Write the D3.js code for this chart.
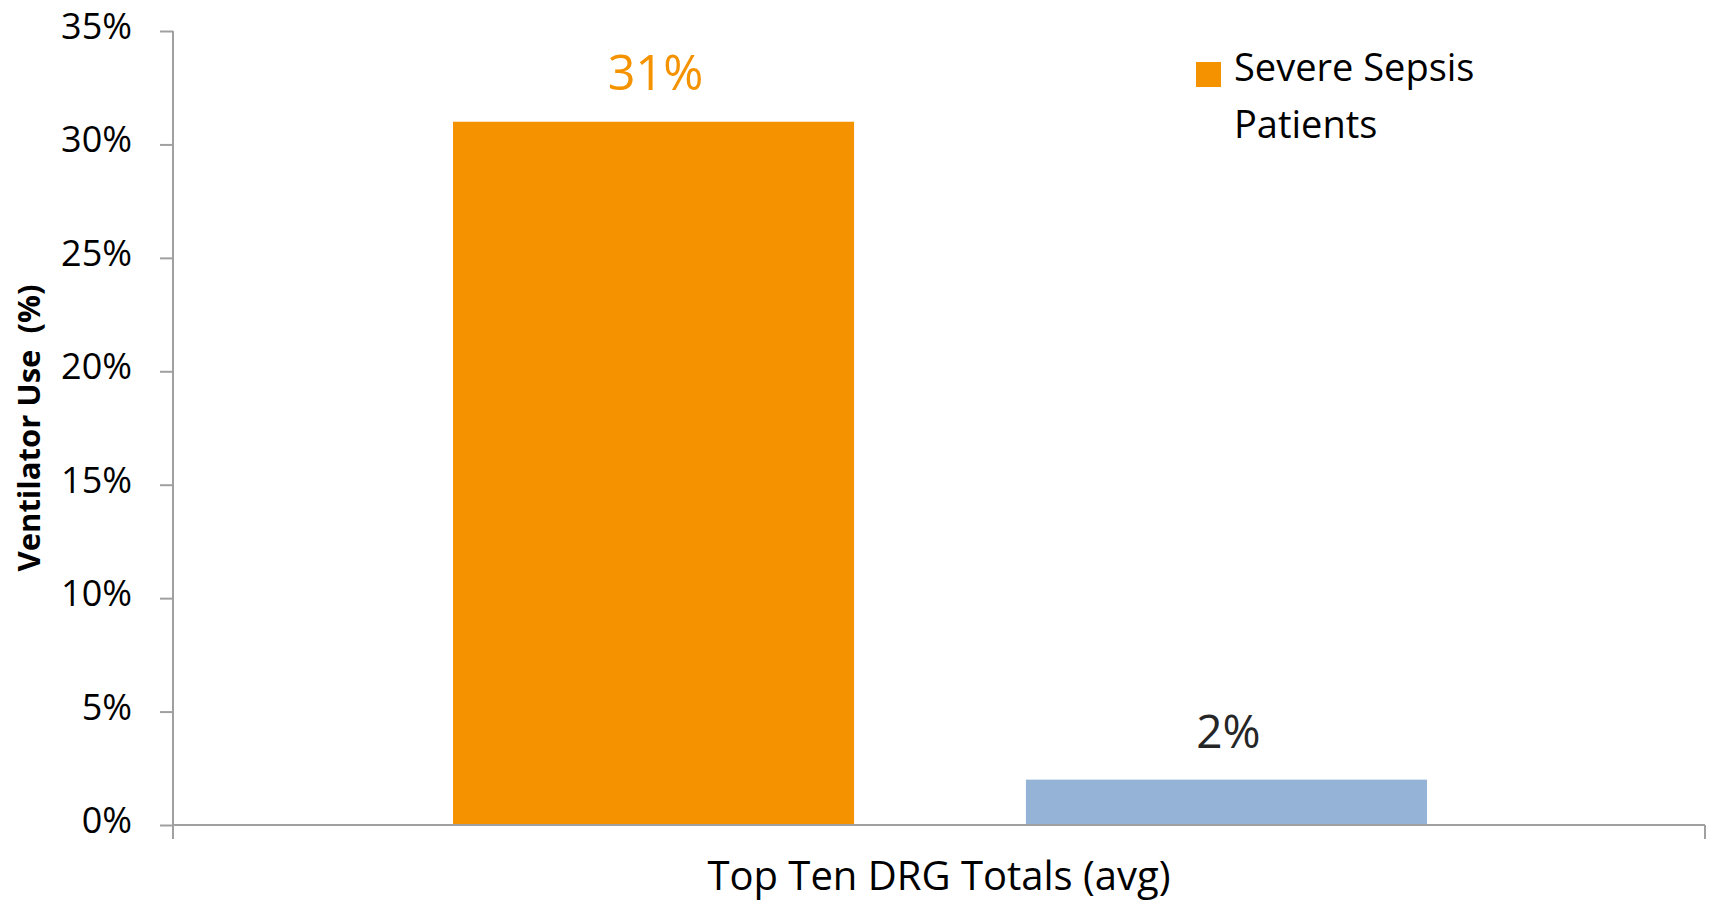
<!DOCTYPE html>
<html>
<head>
<meta charset="utf-8">
<script src="https://cdn.jsdelivr.net/npm/d3@7"></script>
<style>
  body { margin: 0; background: #fff; }
  svg { display: block; font-family: "Open Sans", sans-serif; }
</style>
</head>
<body>
<script>
// chart data
const categories = ["Top Ten DRG Totals (avg)"];
const seriesNames = ["Severe Sepsis Patients", "Other Patients"];
const seriesValues = [0.31, 0.02];
const seriesColors = ["#f59200", "#95b3d7"];
const labelColors = ["#f59200", "#262626"];
const yTicks = [0, 0.05, 0.10, 0.15, 0.20, 0.25, 0.30, 0.35];

const w = 1712, h = 903;
const plotLeft = 173, plotRight = 1705, plotTop = 31, plotBottom = 825;
const font = "'Open Sans', sans-serif";

const svg = d3.select("body").append("svg")
    .attr("width", w)
    .attr("height", h);

const y = d3.scaleLinear().domain([0, 0.35]).range([plotBottom, plotTop]);
const x = d3.scaleBand().domain(categories).range([plotLeft, plotRight]);
const xs = d3.scaleBand().domain(seriesNames)
    .range([1, x.bandwidth() + 1])
    .paddingInner(0.3)
    .paddingOuter(0.487);

// y axis
const yAxis = svg.append("g")
    .attr("transform", `translate(${plotLeft},0)`)
    .call(d3.axisLeft(y).tickValues(yTicks).tickFormat(d3.format(".0%"))
        .tickSize(13).tickPadding(28).tickSizeOuter(0));
yAxis.attr("font-family", font);
yAxis.select(".domain").remove();
yAxis.selectAll(".tick line").attr("stroke", "#a0a0a0").attr("stroke-width", 2);
yAxis.selectAll(".tick text")
    .attr("font-size", 36)
    .attr("fill", "#000")
    .attr("dy", "0.21em");
yAxis.append("line")
    .attr("x1", 0).attr("x2", 0)
    .attr("y1", y(0.35)).attr("y2", y(0) + 14)
    .attr("stroke", "#a0a0a0").attr("stroke-width", 2);

// bars
const bars = svg.append("g");
seriesNames.forEach((s, i) => {
    bars.append("rect")
        .attr("x", x(categories[0]) + xs(s))
        .attr("y", y(seriesValues[i]))
        .attr("width", xs.bandwidth())
        .attr("height", y(0) - y(seriesValues[i]))
        .attr("fill", seriesColors[i]);
    svg.append("text")
        .attr("x", x(categories[0]) + xs(s) + xs.bandwidth() / 2 + 2)
        .attr("y", y(seriesValues[i]) - 32)
        .attr("text-anchor", "middle")
        .attr("font-size", i === 0 ? 48.5 : 46)
        .attr("fill", labelColors[i])
        .text(d3.format(".0%")(seriesValues[i]));
});

// x axis
const xAxis = svg.append("g").attr("transform", `translate(0,${plotBottom})`);
xAxis.append("line")
    .attr("x1", plotLeft).attr("x2", plotRight)
    .attr("stroke", "#a0a0a0").attr("stroke-width", 2);
x.range().forEach(v => {
    xAxis.append("line")
        .attr("x1", v).attr("x2", v).attr("y1", 0).attr("y2", 14)
        .attr("stroke", "#a0a0a0").attr("stroke-width", 2);
});
xAxis.append("text")
    .attr("x", x(categories[0]) + x.bandwidth() / 2)
    .attr("y", 65)
    .attr("text-anchor", "middle")
    .attr("font-size", 40)
    .attr("fill", "#000")
    .text(categories[0]);

// y title
svg.append("text")
    .attr("transform", `translate(40,${(plotTop + plotBottom) / 2}) rotate(-90)`)
    .attr("text-anchor", "middle")
    .attr("font-size", 31)
    .attr("font-weight", "bold")
    .attr("fill", "#000")
    .attr("xml:space", "preserve")
    .text("Ventilator Use  (%)");

// legend
const legend = svg.append("g").attr("transform", "translate(1196,62)");
legend.append("rect")
    .attr("width", 25).attr("height", 25)
    .attr("fill", seriesColors[0]);
legend.append("text")
    .attr("x", 38).attr("y", 19)
    .attr("font-size", 38)
    .attr("fill", "#000")
    .selectAll("tspan")
    .data(["Severe Sepsis", "Patients"])
    .join("tspan")
    .attr("x", 38)
    .attr("dy", (d, i) => i === 0 ? 0 : 57)
    .text(d => d);
</script>
</body>
</html>
